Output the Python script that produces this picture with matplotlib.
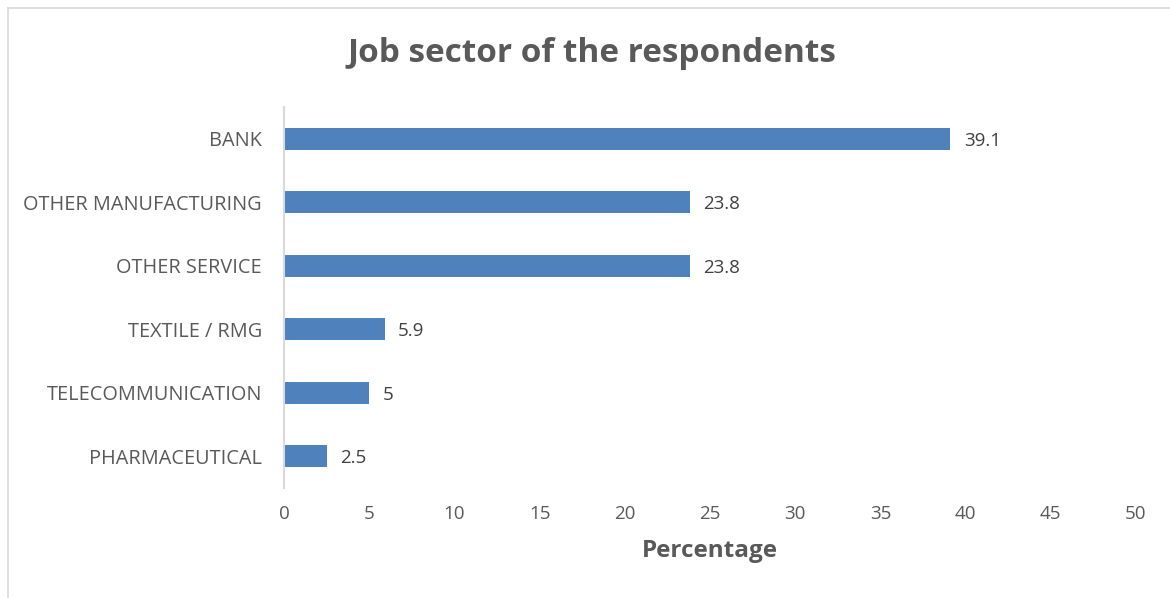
import matplotlib.pyplot as plt
from matplotlib.lines import Line2D

sectors = ["BANK", "OTHER MANUFACTURING", "OTHER SERVICE",
           "TEXTILE / RMG", "TELECOMMUNICATION", "PHARMACEUTICAL"]
percent = [39.1, 23.8, 23.8, 5.9, 5, 2.5]
x_ticks = [0, 5, 10, 15, 20, 25, 30, 35, 40, 45, 50]

W, H = 1170, 598
plt.rcParams['font.family'] = ['Open Sans', 'DejaVu Sans']
text_gray = '#595959'

fig = plt.figure(figsize=(W / 100, H / 100), dpi=100)
ax = fig.add_axes([284 / W, (H - 488) / H, (1136 - 284) / W, (488 - 107) / H])

ypos = list(range(len(sectors)))
ax.barh(ypos, percent, height=0.35, color='#4F81BD')
for y, v in zip(ypos, percent):
    ax.text(v + 0.8, y, f"{v:g}", va='center_baseline', ha='left', fontsize=13.5, color='#404040')

ax.set_xlim(0, 50)
ax.set_ylim(len(sectors) - 0.5, -0.5)
ax.set_yticks(ypos)
ax.set_yticklabels(sectors, fontsize=14.3, color=text_gray)
ax.set_xticks(x_ticks)
ax.set_xticklabels([str(t) for t in x_ticks], fontsize=13.5, color=text_gray)
ax.tick_params(axis='both', length=0)
ax.tick_params(axis='y', pad=16)
ax.tick_params(axis='x', pad=12)

for side in ['top', 'right', 'bottom']:
    ax.spines[side].set_visible(False)
ax.spines['left'].set_color('#D9D9D9')
ax.spines['left'].set_linewidth(1.5)

ax.set_xlabel("Percentage", fontsize=17.5, fontweight='bold', color=text_gray, labelpad=12)
fig.text(592 / W, 1 - 53 / H, "Job sector of the respondents", ha='center', va='center',
         fontsize=24, fontweight='bold', color=text_gray)

# chart area frame along the top and left edges
fig.add_artist(Line2D([8 / W, 1], [1 - 8 / H, 1 - 8 / H], color='#D9D9D9', lw=1.2))
fig.add_artist(Line2D([8 / W, 8 / W], [0, 1 - 8 / H], color='#D9D9D9', lw=1.2))

fig.savefig("out.png", dpi=100, facecolor='white')
